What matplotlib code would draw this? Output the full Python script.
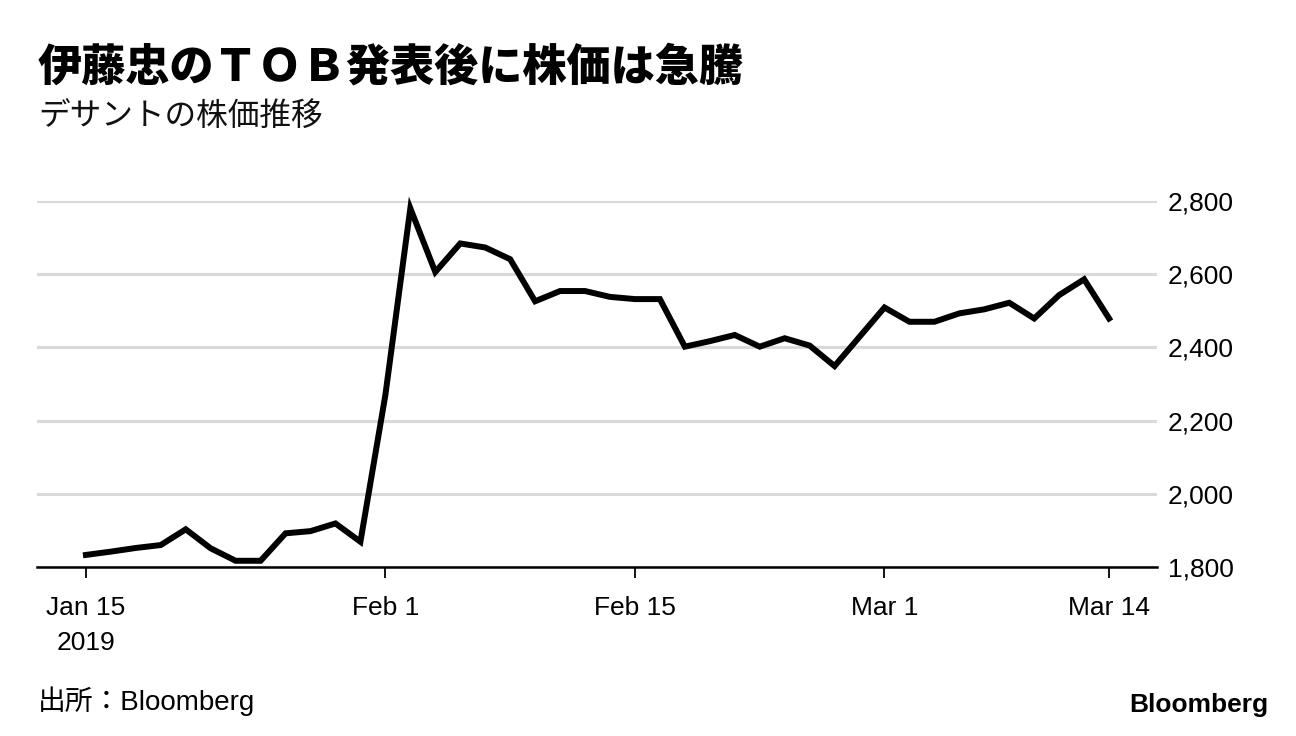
import matplotlib
matplotlib.use("Agg")
import matplotlib.pyplot as plt

plt.rcParams['font.family'] = ['Liberation Sans', 'Noto Sans CJK JP']

# Descente closing price, one value per trading day (Jan 15 - Mar 14, 2019)
close = [1833, 1842, 1852, 1860, 1903, 1851, 1817, 1817, 1892, 1898,
         1919, 1869, 2270, 2780, 2606, 2684, 2673, 2641, 2526, 2554,
         2554, 2538, 2532, 2532, 2402, 2417, 2434, 2402, 2425, 2405,
         2349, 2429, 2509, 2470, 2470, 2493, 2504, 2522, 2479, 2543,
         2586, 2479]
tick_idx = [0, 12, 22, 32, 41]
tick_labels = ['Jan 15\n2019', 'Feb 1', 'Feb 15', 'Mar 1', 'Mar 14']
y_ticks = [1800, 2000, 2200, 2400, 2600, 2800]

title = '伊藤忠のＴＯＢ発表後に株価は急騰'
subtitle = 'デサントの株価推移'
source = '出所：Bloomberg'

W, H = 1296, 736
fig = plt.figure(figsize=(W / 100, H / 100), dpi=100)
ax = fig.add_axes([37 / W, 1 - 567 / H, (1157 - 37) / W, (567 - 201) / H])

x = list(range(len(close)))
ax.plot(x, close, color='black', lw=4.3, solid_joinstyle='miter', clip_on=False, zorder=3)

ax.set_xlim(-1.96, 42.92)
ax.set_ylim(1800, 2800)

ax.set_yticks(y_ticks)
ax.set_yticklabels([f'{v:,}' for v in y_ticks])
ax.yaxis.tick_right()
ax.tick_params(axis='y', length=0, pad=8, labelsize=19)
ax.grid(axis='y', color='#d9d9d9', lw=2.2)
ax.set_axisbelow(True)

ax.set_xticks(tick_idx)
ax.set_xticklabels(tick_labels, linespacing=1.55)
ax.tick_params(axis='x', length=8, width=1.3, pad=13, labelsize=19, color='black')

for s in ['top', 'left', 'right']:
    ax.spines[s].set_visible(False)
ax.spines['bottom'].set_linewidth(1.8)
ax.spines['bottom'].set_zorder(4)

fig.text(38 / W, 1 - 67 / H, title, fontsize=31.8, fontweight='black',
         family=['Noto Sans CJK JP'], va='center', ha='left')
fig.text(38 / W, 1 - 117 / H, subtitle, fontsize=22.8,
         family=['Noto Sans CJK JP'], va='center', ha='left', color='#111111')
fig.text(38 / W, 1 - 701 / H, source, fontsize=20, va='center', ha='left')
fig.text(1268 / W, 1 - 705 / H, 'Bloomberg', fontsize=19, fontweight='bold',
         va='center', ha='right')

fig.savefig('out.png', dpi=100)
